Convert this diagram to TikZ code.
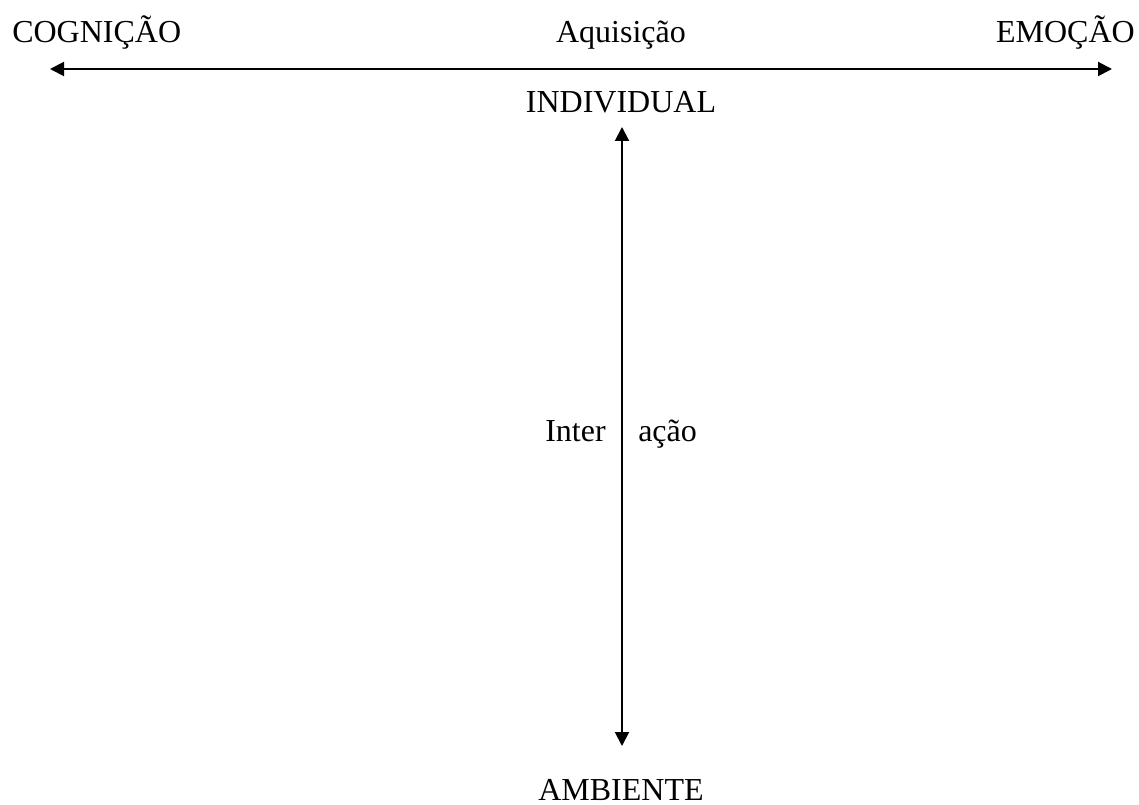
\documentclass[tikz,border=0pt]{standalone}
\usepackage{fontspec}
\setmainfont{Liberation Serif}
\usetikzlibrary{arrows.meta}
\usetikzlibrary{positioning}

\tikzset{
  lbl/.style={inner sep=0pt, font=\fontsize{24}{28}\selectfont},
  axis/.style={line width=1.5pt, {Triangle[length=10.5pt,width=10.5pt]}-{Triangle[length=10.5pt,width=10.5pt]}}
}

\begin{document}
\begin{tikzpicture}[x=0.75pt, y=-0.75pt]

  % Frame
  \useasboundingbox (0,0) rectangle (1139,805);

  % Define nodes
  \node[lbl, anchor=base west] (cog) at (12,43) {COGNIÇÃO};
  \node[lbl, anchor=base]      (aq)  at (621,43) {Aquisição};
  \node[lbl, anchor=base east] (emo) at (1135,43) {EMOÇÃO};
  \node[lbl, anchor=base]      (ind) at (621,113) {INDIVIDUAL};
  \node[lbl, anchor=base]      (amb) at (621,800) {AMBIENTE};
  \node[lbl, anchor=base east] (inter) at (606,442) {Inter};
  \node[lbl, anchor=base west] (acao)  at (638,442) {ação};

  % Axis ends
  \coordinate (left)  at (50,69);
  \coordinate (right) at (1112,69);
  \coordinate (top)   at (622,127);
  \coordinate (bot)   at (622,746);

  % Connect the nodes
  \draw[axis] (left) -- (right);
  \draw[axis] (top) -- (bot);

\end{tikzpicture}
\end{document}
